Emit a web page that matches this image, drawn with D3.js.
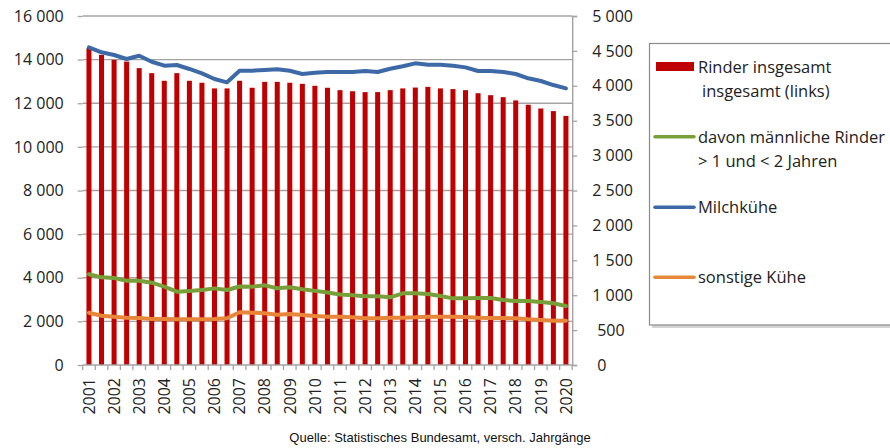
<!DOCTYPE html>
<html><head><meta charset="utf-8">
<script src="https://cdn.jsdelivr.net/npm/d3@7"></script>
<style>
body{margin:0;background:#fff;}
svg{display:block;}
text{font-family:"Open Sans",Lato,sans-serif;fill:#222;}
text.src{font-family:"Liberation Sans",Arial,sans-serif;fill:#111;}
</style></head>
<body><svg id="chart" width="890" height="448"></svg>
<script>
const categories = ["Mai 2001","Nov 2001","Mai 2002","Nov 2002","Mai 2003","Nov 2003","Mai 2004","Nov 2004","Mai 2005","Nov 2005","Mai 2006","Nov 2006","Mai 2007","Nov 2007","Mai 2008","Nov 2008","Mai 2009","Nov 2009","Mai 2010","Nov 2010","Mai 2011","Nov 2011","Mai 2012","Nov 2012","Mai 2013","Nov 2013","Mai 2014","Nov 2014","Mai 2015","Nov 2015","Mai 2016","Nov 2016","Mai 2017","Nov 2017","Mai 2018","Nov 2018","Mai 2019","Nov 2019","Mai 2020"];
const yearLabels = ["2001","","2002","","2003","","2004","","2005","","2006","","2007","","2008","","2009","","2010","","2011","","2012","","2013","","2014","","2015","","2016","","2017","","2018","","2019","","2020"];
const rinderInsgesamt = [14530,14220,13990,13910,13610,13380,13030,13380,13030,12940,12680,12680,13030,12710,12980,12980,12940,12890,12800,12710,12600,12550,12510,12510,12600,12680,12720,12750,12680,12650,12600,12460,12370,12280,12130,11930,11760,11640,11420];
const maennlicheRinder = [1300,1256,1246,1208,1208,1179,1122,1050,1060,1074,1098,1074,1125,1122,1141,1100,1113,1084,1062,1040,1010,1000,984,984,970,1027,1027,1017,989,955,955,960,960,931,917,917,902,884,845];
const milchkuehe = [4552,4480,4441,4384,4431,4345,4288,4298,4241,4179,4097,4050,4216,4216,4226,4236,4216,4169,4188,4198,4198,4198,4212,4198,4245,4280,4322,4302,4302,4288,4264,4212,4212,4198,4169,4107,4069,4011,3964];
const sonstigeKuehe = [749,706,692,678,673,659,659,654,654,654,659,669,755,749,740,721,731,716,702,692,692,683,669,669,678,678,683,692,692,692,688,678,673,673,669,654,645,635,635];
const leftTicks = [0,2000,4000,6000,8000,10000,12000,14000,16000];
const rightTicks = [0,500,1000,1500,2000,2500,3000,3500,4000,4500,5000];
const legendLabels = [["Rinder insgesamt"," insgesamt (links)"],["davon männliche Rinder","> 1 und < 2 Jahren"],["Milchkühe"],["sonstige Kühe"]];
const sourceText = "Quelle: Statistisches Bundesamt, versch. Jahrgänge";

const svg = d3.select("#chart");
const L = 82.7, R = 572.2, T = 16, B = 365;
const fmtS = v => d3.format(",")(v).replace(/,/g, " ");

const x = d3.scaleBand().domain(categories).range([L, R]).paddingInner(0.6).paddingOuter(0.3);
const yL = d3.scaleLinear().domain([0,16000]).range([B, T]);
const yR = d3.scaleLinear().domain([0,5000]).range([B, T]);
const step = x.step();
const cx = c => x(c) + x.bandwidth()/2;

// gridlines
svg.append("g").selectAll("line").data(leftTicks.filter(d=>d>0)).join("line")
  .attr("x1", L).attr("x2", R).attr("y1", d=>yL(d)).attr("y2", d=>yL(d))
  .attr("stroke", "#a3a3a3").attr("stroke-width", 1.4);

// bars
svg.append("g").selectAll("rect").data(categories).join("rect")
  .attr("x", d=>x(d)).attr("width", x.bandwidth())
  .attr("y", (d,i)=>yL(rinderInsgesamt[i])).attr("height", (d,i)=>B - yL(rinderInsgesamt[i]))
  .attr("fill", "#c00000");

// left axis
const gl = svg.append("g").attr("transform", `translate(${L},0)`)
  .call(d3.axisLeft(yL).tickValues(leftTicks).tickSize(5).tickPadding(14).tickFormat(fmtS));
gl.select(".domain").remove();
gl.selectAll(".tick line").attr("stroke", "#a3a3a3").attr("stroke-width", 1.3);
gl.selectAll("text").attr("font-size", 16).attr("font-family", null).attr("fill", null);

// right axis
const gr = svg.append("g").attr("transform", `translate(${R},0)`)
  .call(d3.axisRight(yR).tickValues(rightTicks).tickSize(5).tickPadding(15).tickFormat(fmtS));
gr.select(".domain").attr("stroke", "#a3a3a3").attr("stroke-width", 1.4);
gr.selectAll(".tick line").attr("stroke", "#a3a3a3").attr("stroke-width", 1.3);
gr.selectAll("text").attr("font-size", 16).attr("font-family", null).attr("fill", null)
  .attr("dx", d => d < 1000 ? 5 : 0);

// x axis
const gx = svg.append("g").attr("transform", `translate(0,${B})`);
gx.append("line").attr("x1", L).attr("x2", R).attr("stroke", "#a3a3a3").attr("stroke-width", 1.4);
gx.selectAll("line.tk").data(categories.concat(["__end"])).join("line").attr("class","tk")
  .attr("x1", (d,i)=> i < categories.length ? x(d) - step*0.3 : R)
  .attr("x2", (d,i)=> i < categories.length ? x(d) - step*0.3 : R)
  .attr("y1", 0).attr("y2", 5).attr("stroke", "#a3a3a3").attr("stroke-width", 1.3);
gx.selectAll("text").data(categories).join("text")
  .attr("transform", d => `translate(${cx(d)},13) rotate(-90)`)
  .attr("text-anchor", "end").attr("dy", "0.36em")
  .attr("font-size", 16).text((d,i)=>yearLabels[i]);

// lines
const series = [
  {vals: maennlicheRinder, color: "#77a03a"},
  {vals: sonstigeKuehe, color: "#e8873a"},
  {vals: milchkuehe, color: "#3d6aa6"}
];
const line = d3.line().x((d,i)=>cx(categories[i])).y(d=>yR(d)).curve(d3.curveLinear);
series.forEach(s => {
  svg.append("path").datum(s.vals).attr("d", line).attr("fill","none")
    .attr("stroke", s.color).attr("stroke-width", 4).attr("stroke-linejoin","round").attr("stroke-linecap","round");
});

// legend
const lg = svg.append("g");
lg.append("rect").attr("x", 652).attr("y", 46.5).attr("width", 260).attr("height", 281.5).attr("fill", "#d4d4d4");
lg.append("rect").attr("x", 649.5).attr("y", 43.5).attr("width", 260).attr("height", 281.5)
  .attr("fill", "#fff").attr("stroke", "#8a8a8a").attr("stroke-width", 1.2);
lg.append("rect").attr("x", 656).attr("y", 62).attr("width", 38).attr("height", 9).attr("fill", "#c00000");
const legendLines = [{y:136.7,c:"#77a03a"},{y:207.3,c:"#3d6aa6"},{y:277.3,c:"#e8873a"}];
lg.selectAll("line.li").data(legendLines).join("line").attr("class","li")
  .attr("x1", 655).attr("x2", 694).attr("y1", d=>d.y).attr("y2", d=>d.y)
  .attr("stroke", d=>d.c).attr("stroke-width", 3.5).attr("stroke-linecap","round");
const legendY = [[72.5, 97], [143, 167], [213], [283]];
legendLabels.forEach((lines, i) => {
  lines.forEach((t, j) => {
    lg.append("text").attr("x", j === 1 && i === 0 ? 702 : 698).attr("y", legendY[i][j]).attr("font-size", 16.5)
      .text(t.trim());
  });
});

// source
svg.append("text").attr("class","src").attr("x", 440).attr("y", 442).attr("text-anchor","middle")
  .attr("font-size", 13).text(sourceText);
</script></body></html>
